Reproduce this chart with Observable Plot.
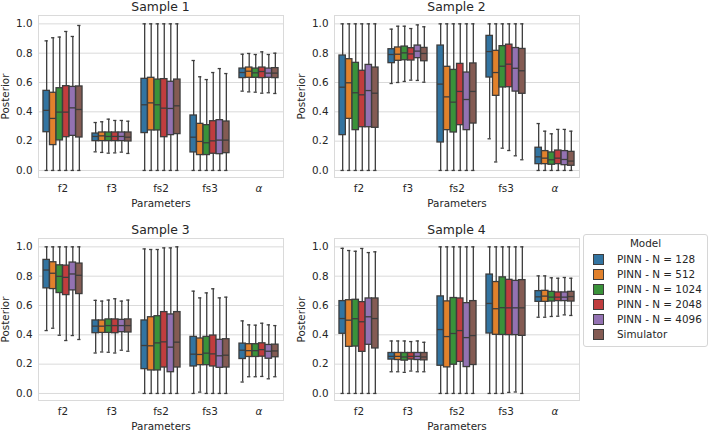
<!DOCTYPE html>
<html>
<head>
<meta charset="utf-8">
<script src="https://cdn.jsdelivr.net/npm/d3@7"></script>
<script src="https://cdn.jsdelivr.net/npm/@observablehq/plot@0.6"></script>
<style>
  html, body { margin: 0; padding: 0; background: white; }
  #wrap { position: relative; width: 709px; height: 430px; overflow: hidden; font-family: "DejaVu Sans", sans-serif; color: #262626; }
  .panel { position: absolute; }
  .title { position: absolute; font-size: 12.4px; line-height: 13px; text-align: center; width: 200px; }
  #legend { position: absolute; left: 583px; top: 234px; width: 123px; height: 111px; border: 1px solid #d6d6d6; border-radius: 3px; background: white; font-size: 10.4px; }
  #legend .lt { position: absolute; left: 0; width: 100%; text-align: center; top: 2px; line-height: 13px; }
  #legend .row { position: absolute; left: 9px; height: 13px; line-height: 13px; }
  #legend .sw { position: absolute; left: 0; top: 1px; width: 9px; height: 9px; border: 1px solid #3d3d3d; }
  #legend .lab { position: absolute; left: 24px; top: 0; white-space: nowrap; }
</style>
</head>
<body>
<div id="wrap"></div>
<script>
const params = ["f2", "f3", "fs2", "fs3", "α"];
const models = ["PINN - N = 128", "PINN - N = 512", "PINN - N = 1024", "PINN - N = 2048", "PINN - N = 4096", "Simulator"];
const colors = ["#3274a1", "#e1812c", "#3a923a", "#c03d3e", "#9372b2", "#845b53"];
const sampleTitles = ["Sample 1", "Sample 2", "Sample 3", "Sample 4"];
const yTicks = [0, 0.2, 0.4, 0.6, 0.8, 1.0];

// each row: [min, q1, median, q3, max] per model (128, 512, 1024, 2048, 4096, Simulator)
const s1_f2  = [[0,.261,.41,.543,.884],[0,.173,.355,.53,.905],[0,.205,.398,.561,.91],[0,.227,.398,.575,.948],[0,.236,.427,.57,.914],[0,.225,.416,.573,.989]];
const s1_f3  = [[.127,.2,.232,.252,.327],[.123,.2,.236,.259,.332],[.118,.2,.232,.259,.35],[.12,.2,.232,.259,.341],[.125,.2,.232,.259,.341],[.116,.198,.227,.259,.336]];
const s1_fs2 = [[0,.255,.448,.625,1],[0,.273,.461,.632,1],[0,.273,.448,.62,1],[0,.227,.425,.623,1],[0,.241,.423,.605,1],[0,.248,.441,.62,1]];
const s1_fs3 = [[0,.123,.227,.375,.75],[0,.105,.198,.318,.639],[0,.105,.189,.309,.62],[0,.114,.202,.336,.668],[0,.111,.207,.343,.695],[0,.118,.207,.334,.661]];
const s1_a   = [[.541,.63,.668,.695,.793],[.536,.632,.677,.702,.798],[.534,.632,.666,.695,.791],[.527,.63,.675,.702,.809],[.53,.632,.664,.695,.791],[.525,.63,.664,.698,.8]];

const s2_f2  = [[0,.241,.568,.784,1],[0,.352,.598,.759,1],[0,.275,.53,.734,1],[0,.295,.516,.68,1],[0,.295,.545,.72,1],[0,.291,.527,.702,1]];
const s2_f3  = [[.593,.732,.791,.827,.964],[.6,.748,.793,.839,.984],[.607,.752,.802,.845,.984],[.616,.75,.795,.834,.968],[.614,.766,.814,.852,.993],[.602,.745,.798,.836,.98]];
const s2_fs2 = [[0,.191,.589,.852,1],[0,.275,.502,.707,1],[0,.259,.466,.686,1],[0,.309,.539,.727,1],[0,.275,.484,.668,1],[0,.32,.539,.73,1]];
const s2_fs3 = [[.216,.634,.811,.918,1],[.058,.509,.668,.816,1],[.152,.566,.711,.848,1],[.136,.568,.725,.858,1],[.1,.538,.697,.835,1],[.073,.523,.68,.829,1]];
const s2_a   = [[0,.043,.093,.155,.32],[0,.043,.084,.132,.268],[0,.039,.073,.123,.25],[0,.043,.084,.136,.28],[0,.036,.075,.132,.28],[0,.032,.064,.127,.268]];

const s3_f2  = [[.429,.717,.842,.911,1],[.445,.712,.82,.895,1],[.397,.685,.799,.874,1],[.361,.671,.792,.872,1],[.395,.703,.815,.893,1],[.368,.678,.806,.886,1]];
const s3_f3  = [[.276,.411,.459,.498,.635],[.283,.413,.459,.498,.63],[.281,.413,.463,.505,.637],[.276,.411,.463,.505,.646],[.295,.418,.463,.502,.63],[.288,.416,.463,.505,.637]];
const s3_fs2 = [[0,.166,.327,.498,.986],[0,.157,.325,.52,.982],[0,.157,.345,.527,.982],[0,.177,.352,.555,.993],[0,.145,.316,.539,.993],[0,.177,.35,.555,1]];
const s3_fs3 = [[0,.184,.268,.386,.698],[.009,.193,.266,.375,.652],[0,.193,.275,.386,.686],[0,.184,.27,.395,.714],[0,.175,.257,.366,.652],[0,.177,.261,.37,.657]];
const s3_a   = [[.078,.235,.295,.34,.495],[.114,.249,.292,.336,.468],[.114,.249,.292,.336,.466],[.116,.251,.299,.342,.479],[.1,.237,.288,.331,.468],[.114,.247,.29,.333,.463]];

const s4_f2  = [[0,.407,.511,.63,.99],[0,.318,.5,.636,.975],[0,.32,.51,.639,.97],[0,.284,.489,.623,.989],[0,.332,.523,.648,.961],[0,.307,.511,.648,.966]];
const s4_f3  = [[.148,.231,.253,.276,.358],[.148,.228,.253,.276,.358],[.144,.224,.249,.276,.358],[.153,.231,.253,.276,.354],[.148,.228,.253,.276,.358],[.148,.226,.249,.276,.349]];
const s4_fs2 = [[0,.189,.436,.662,1],[0,.178,.388,.628,1],[0,.196,.409,.651,1],[0,.215,.429,.648,1],[0,.18,.381,.616,1],[0,.194,.395,.63,1]];
const s4_fs3 = [[0,.409,.614,.811,1],[0,.4,.578,.76,1],[0,.399,.585,.792,1],[.007,.398,.584,.775,1],[.01,.398,.584,.768,1],[0,.393,.584,.773,1]];
const s4_a   = [[.52,.625,.659,.698,.802],[.52,.625,.664,.7,.802],[.525,.627,.657,.693,.789],[.527,.63,.657,.689,.786],[.536,.63,.657,.689,.791],[.532,.627,.661,.693,.786]];

const samples = [
  [s1_f2, s1_f3, s1_fs2, s1_fs3, s1_a],
  [s2_f2, s2_f3, s2_fs2, s2_fs3, s2_a],
  [s3_f2, s3_f3, s3_fs2, s3_fs3, s3_a],
  [s4_f2, s4_f3, s4_fs2, s4_fs3, s4_a]
];

const wrap = document.getElementById("wrap");
const lineColor = "#3d3d3d";
const gridColor = "#dadada";
const groupW = 0.8, boxW = groupW / models.length;
const layout = [{left: 0, top: 0}, {left: 296, top: 0}, {left: 0, top: 223}, {left: 296, top: 223}];

samples.forEach((sample, si) => {
  const rows = [];
  sample.forEach((arr, pi) => arr.forEach((s, mi) => {
    rows.push({p: pi, m: mi, x: pi + (mi - (models.length - 1) / 2) * boxW,
      min: s[0], q1: s[1], med: s[2], q3: s[3], max: s[4]});
  }));
  const half = boxW * 0.98 / 2, cap = boxW / 4;
  const sw = 1.3;
  const plot = Plot.plot({
    width: 288, height: 210,
    marginLeft: 38, marginRight: 5, marginTop: 15, marginBottom: 33,
    style: {fontFamily: "DejaVu Sans, sans-serif", fontSize: "10.4px", color: "#262626", background: "transparent"},
    x: {type: "linear", domain: [-0.5, 4.5]},
    y: {domain: [-0.048, 1.057]},
    marks: [
      Plot.ruleY(yTicks, {stroke: gridColor, strokeWidth: 1}),
      Plot.frame({stroke: gridColor, strokeWidth: 1}),
      Plot.ruleX(rows, {x: "x", y1: "min", y2: "max", stroke: lineColor, strokeWidth: sw}),
      Plot.ruleY(rows, {y: "max", x1: d => d.x - cap, x2: d => d.x + cap, stroke: lineColor, strokeWidth: sw}),
      Plot.ruleY(rows, {y: "min", x1: d => d.x - cap, x2: d => d.x + cap, stroke: lineColor, strokeWidth: sw}),
      Plot.rect(rows, {x1: d => d.x - half, x2: d => d.x + half, y1: "q1", y2: "q3", fill: d => colors[d.m], stroke: lineColor, strokeWidth: sw}),
      Plot.ruleY(rows, {y: "med", x1: d => d.x - half, x2: d => d.x + half, stroke: lineColor, strokeWidth: sw}),
      Plot.axisY({ticks: yTicks, tickSize: 0, tickPadding: 6, tickFormat: d3.format(".1f"), fontSize: 10.4,
        label: "Posterior", labelAnchor: "center", labelOffset: 37, labelArrow: "none"}),
      Plot.axisX({ticks: params.map((_, i) => i), tickSize: 0, tickPadding: 7, tickFormat: i => params[i], fontSize: 10.4,
        label: "Parameters", labelAnchor: "center", labelOffset: 29, labelArrow: "none"})
    ]
  });
  plot.querySelectorAll("text").forEach(t => { if (t.textContent === "α") t.style.fontStyle = "italic"; });
  plot.classList.add("panel");
  plot.style.left = layout[si].left + "px";
  plot.style.top = layout[si].top + "px";
  wrap.appendChild(plot);
  const title = document.createElement("div");
  title.className = "title";
  title.textContent = sampleTitles[si];
  title.style.left = (layout[si].left + 38 + 122.5 - 100) + "px";
  title.style.top = (layout[si].top + 0) + "px";
  wrap.appendChild(title);
});

const legend = document.createElement("div");
legend.id = "legend";
const lt = document.createElement("div");
lt.className = "lt"; lt.textContent = "Model";
legend.appendChild(lt);
models.forEach((m, i) => {
  const row = document.createElement("div");
  row.className = "row";
  row.style.top = (18 + i * 15) + "px";
  const swd = document.createElement("div");
  swd.className = "sw"; swd.style.background = colors[i];
  const lab = document.createElement("div");
  lab.className = "lab"; lab.textContent = m;
  row.appendChild(swd); row.appendChild(lab);
  legend.appendChild(row);
});
wrap.appendChild(legend);
</script>
</body>
</html>
